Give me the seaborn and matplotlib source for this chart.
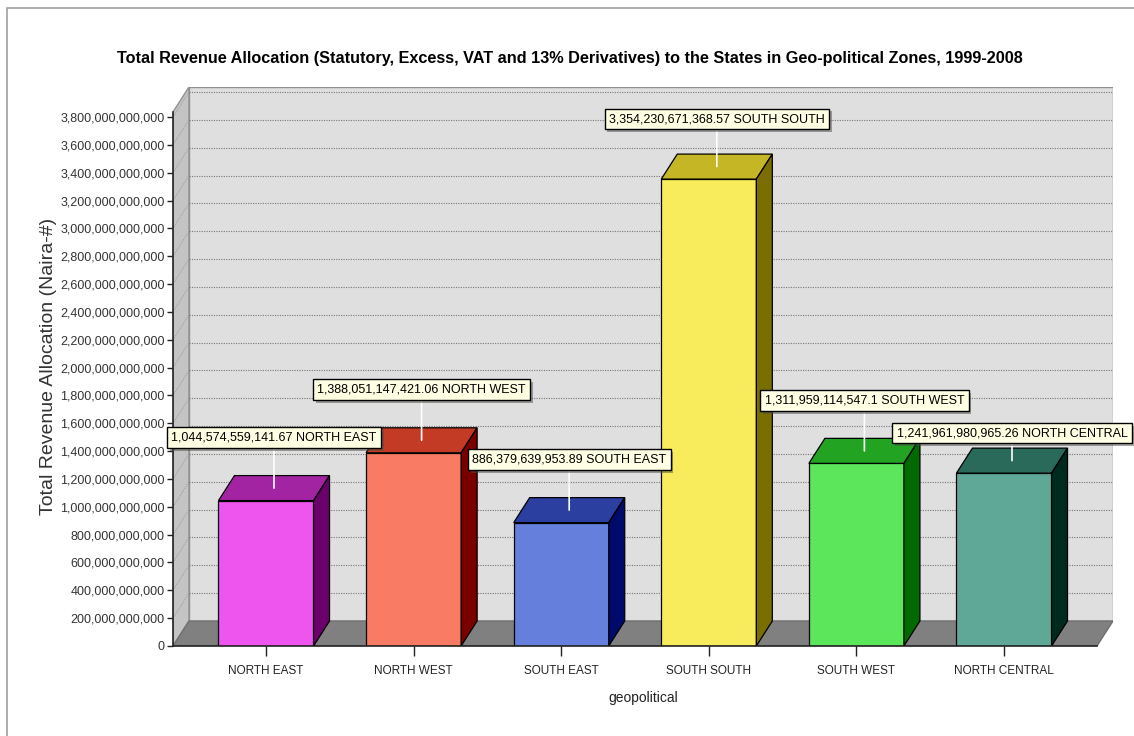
import matplotlib
matplotlib.use("Agg")
import matplotlib.pyplot as plt
import matplotlib.patches as mpatches
import matplotlib.patheffects as pe
import seaborn as sns
import numpy as np

zones = ["NORTH EAST", "NORTH WEST", "SOUTH EAST", "SOUTH SOUTH", "SOUTH WEST", "NORTH CENTRAL"]
values = [1044574559141.67, 1388051147421.06, 886379639953.89,
          3354230671368.57, 1311959114547.1, 1241961980965.26]
yticks = np.arange(0, 3.8e12 + 1, 0.2e12)

front_colors = ["#EE55EE", "#FA7B63", "#6580DC", "#F9EC5C", "#5CE65C", "#5FA898"]
top_colors = ["#A324A3", "#C43B25", "#2A3FA0", "#C4B624", "#22A422", "#2A6A5A"]
side_colors = ["#6A006A", "#7A0000", "#000A6A", "#7A6E00", "#006A00", "#002A1E"]
label_lift = [38, 38, 38, 35, 38, 15]  # px above top face (style)

sns.set_theme(style="white")
plt.rcParams['font.family'] = ['Liberation Sans Narrow', 'Liberation Sans', 'DejaVu Sans']

W, H = 1134, 736
fig = plt.figure(figsize=(W / 100, H / 100), dpi=100)
fig.patch.set_facecolor("white")

# axes geometry in pixels
ax_l, ax_r, ax_b, ax_t = 173, 1113, 646, 87
ax = fig.add_axes([ax_l / W, (H - ax_b) / H, (ax_r - ax_l) / W, (ax_b - ax_t) / H])

cat_px = 147.6
y_px = 139.2e-12
dx = 16 / cat_px
dy = 25 / y_px
x0 = -93 / cat_px
x1 = 5 + 93 / cat_px
ytop = (ax_b - ax_t) / y_px
ytop_front = ytop - dy

sns.barplot(x=zones, y=values, hue=zones, palette=front_colors, legend=False,
            width=0.644, edgecolor="black", linewidth=0.9, saturation=1, ax=ax, zorder=5)

ax.set_xlim(x0, x1 + dx)
ax.set_ylim(0, ytop)
ax.set_facecolor("none")

# walls
back = mpatches.Rectangle((x0 + dx, dy), x1 - x0, ytop - dy, facecolor="#DFDFDF",
                          edgecolor="#909090", lw=1, zorder=0)
ax.add_patch(back)
left = mpatches.Polygon([(x0, 0), (x0 + dx, dy), (x0 + dx, ytop), (x0, ytop_front)],
                        closed=True, facecolor="#C4C4C4", edgecolor="#909090", lw=1, zorder=1)
ax.add_patch(left)
floor = mpatches.Polygon([(x0, 0), (x1, 0), (x1 + dx, dy), (x0 + dx, dy)],
                         closed=True, facecolor="#808080", edgecolor="#707070", lw=1, zorder=2)
ax.add_patch(floor)
for t in yticks[1:]:
    ax.plot([x0 + dx, x1 + dx], [t + dy, t + dy], color="#777777", lw=0.8,
            ls=(0, (1, 1.2)), zorder=1.5)
    ax.plot([x0, x0 + dx], [t, t + dy], color="#999999", lw=0.7, ls=(0, (1, 1.2)), zorder=1.5)

# 3D faces of bars and value labels
bars = [b for c in ax.containers for b in c]
for i, b in enumerate(bars):
    bx0 = b.get_x()
    bx1 = bx0 + b.get_width()
    h = b.get_height()
    top = mpatches.Polygon([(bx0, h), (bx1, h), (bx1 + dx, h + dy), (bx0 + dx, h + dy)],
                           closed=True, facecolor=top_colors[i], edgecolor="black", lw=0.9, zorder=6)
    side = mpatches.Polygon([(bx1, 0), (bx1 + dx, dy), (bx1 + dx, h + dy), (bx1, h)],
                            closed=True, facecolor=side_colors[i], edgecolor="black", lw=0.9, zorder=6)
    ax.add_patch(top)
    ax.add_patch(side)
    v = values[i]
    s = f"{v:,.2f}".rstrip("0").rstrip(".")
    cx = bx0 + b.get_width() / 2 + dx / 2
    ann = ax.annotate(f"{s} {zones[i]}", xy=(cx, h + dy / 2), xycoords="data",
                      xytext=(0, (label_lift[i] + 12.5) * 0.72), textcoords="offset points",
                      ha="center", va="center", fontsize=9, color="black", zorder=10,
                      bbox=dict(boxstyle="square,pad=0.35", fc="#FFFFE3", ec="black", lw=1),
                      arrowprops=dict(arrowstyle="-", color="white", lw=1.2, shrinkA=0, shrinkB=0),
                      annotation_clip=False)
    ann.get_bbox_patch().set_path_effects([pe.SimplePatchShadow(offset=(2, -2), alpha=0.5), pe.Normal()])

# axes styling
for s in ["top", "right"]:
    ax.spines[s].set_visible(False)
ax.spines["left"].set_bounds(0, ytop_front)
ax.spines["bottom"].set_bounds(x0, x1)
for s in ["left", "bottom"]:
    ax.spines[s].set_color("#222222")
    ax.spines[s].set_linewidth(1.2)
    ax.spines[s].set_zorder(7)
ax.set_yticks(yticks)
ax.set_yticklabels([f"{int(t):,}" for t in yticks], fontsize=9, color="#333333")
ax.set_xticks(range(len(zones)))
ax.set_xticklabels(zones, fontsize=8.5, color="#222222")
ax.tick_params(axis="y", length=4, width=1, color="#222222", pad=2, left=True)
ax.tick_params(axis="x", length=7, width=1, color="#222222", pad=7, bottom=True)
ax.set_xlabel("geopolitical", fontsize=10, color="#222222", labelpad=10)
ax.set_ylabel("Total Revenue Allocation (Naira-#)", fontsize=14, color="#333333",
              family=["Liberation Sans", "DejaVu Sans"], labelpad=2)
ax.grid(False)

fig.text(570 / W, 1 - 58 / H,
         "Total Revenue Allocation (Statutory, Excess, VAT and 13% Derivatives) to the States in Geo-political Zones, 1999-2008",
         ha="center", va="center", fontsize=11.7, fontweight="bold", color="black")

# outer border
fig.patches.append(mpatches.Rectangle((7 / W, -0.01), 1.02, 1 - 8 / H + 0.01, transform=fig.transFigure,
                                      fill=False, edgecolor="#A0A0A0", lw=1.2))

fig.savefig("out.png", dpi=100)
